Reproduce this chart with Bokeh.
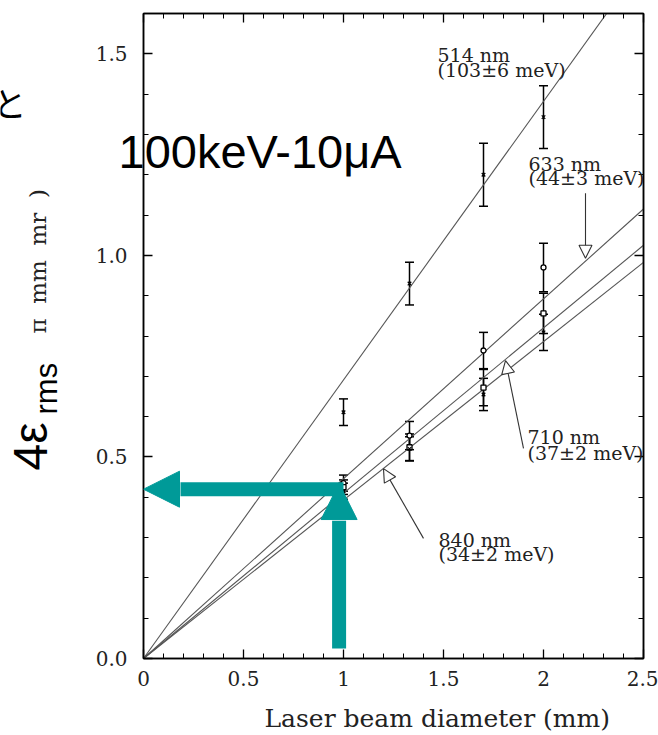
import numpy as np
from bokeh.plotting import figure
from bokeh.layouts import column
from bokeh.models import (Range1d, FixedTicker, LinearAxis, Whisker, ColumnDataSource,
                          Label, Arrow, NormalHead, TeeHead)
from bokeh.embed import file_html
from bokeh.resources import INLINE

# ---------------- data ----------------
diameters = [1.0, 1.33, 1.7, 2.0]
e514 = [0.611, 0.93, 1.20, 1.343]
err514 = [0.033, 0.053, 0.078, 0.078]
e633 = [0.435, 0.553, 0.764, 0.97]
err633 = [0.02, 0.035, 0.045, 0.06]
e710 = [0.425, 0.524, 0.672, 0.856]
err710 = [0.018, 0.033, 0.045, 0.05]
e840 = [0.415, 0.52, 0.655, 0.809]
err840 = [0.02, 0.03, 0.04, 0.045]
fit_slopes = [0.691, 0.446, 0.41, 0.393]
fit_x = [0.0, 2.5]
line_labels = [["514 nm", "(103\u00b16 meV)"], ["633 nm", "(44\u00b13 meV)"],
               ["710 nm", "(37\u00b12 meV)"], ["840 nm", "(34\u00b12 meV)"]]
x_ticks = [0, 0.5, 1, 1.5, 2, 2.5]
x_tick_labels = ["0", "0.5", "1", "1.5", "2", "2.5"]
y_ticks = [0.0, 0.5, 1.0, 1.5]
y_tick_labels = ["0.0", "0.5", "1.0", "1.5"]
title_text = "100keV-10\u03bcA"
xlabel = "Laser beam diameter (mm)"
ylabel_main = "4\u03b5"
ylabel_sub = "rms"
ylabel_unit = "\u03c0\u00a0 mm\u00a0 mr\u00a0 )"
corner_text = "\u3068"

SERIF = "DejaVu Serif"
SANS = "Liberation Sans"
CJK = "Noto Sans CJK JP"
TEAL = "#009a98"
DESC = {SERIF: 0.236, SANS: 0.212, CJK: 0.15}

W, H = 658, 735


# ---------- background figure: whole canvas is its frame, carries the free texts ----------
bg = figure(width=W, height=H, x_range=Range1d(0, W), y_range=Range1d(H, 0),
            x_axis_type=None, y_axis_type=None, min_border=0, toolbar_location=None,
            output_backend="svg")
bg.grid.visible = False
bg.outline_line_color = None
bg.background_fill_color = "white"
bg.border_fill_color = "white"

# (text, font, size px, baseline x, baseline y, rotated) in canvas pixels (y from top)
outside = [
    (xlabel, SERIF, 25, 264, 727, False),
    (title_text, SANS, 47, 118, 168, False),
    (ylabel_main, SANS, 48, 46, 470, True),
    (ylabel_sub, SANS, 31, 57, 414, True),
    (ylabel_unit, SERIF, 23, 45, 333, True),
    (corner_text, CJK, 34, -8, 121, False),
]
for text, font, size, bx, by, rot in outside:
    d = DESC[font] * size
    if rot:
        kw = dict(x=bx + d, y=by, angle=np.pi / 2)
    else:
        kw = dict(x=bx, y=by + d)
    bg.add_layout(Label(text=text, text_font=font, text_font_size=f"{size}px",
                        text_color="#222222" if font == SERIF else "black", **kw))

# ---------- main figure (transparent, laid over the background) ----------
p = figure(frame_width=500, frame_height=645, x_range=Range1d(0, 2.5), y_range=Range1d(0, 1.6),
           output_backend="svg", toolbar_location=None,
           min_border_left=143, min_border_right=15, min_border_top=13, min_border_bottom=77)
p.grid.visible = False
p.outline_line_color = "black"
p.outline_line_width = 1.5
p.background_fill_alpha = 0
p.border_fill_alpha = 0
p.margin = (-H, 0, 0, 0)

for fig in (bg, p):
    if "frame_align" in fig.properties():
        fig.frame_align = False

minor_x = [round(0.1 * i, 2) for i in range(26)]
minor_y = [round(0.1 * i, 2) for i in range(17)]

top = LinearAxis()
right = LinearAxis()
p.add_layout(top, "above")
p.add_layout(right, "right")
bottom = p.below[0]
left = p.left[0]

for ax, ticks, minors, labs in [(bottom, x_ticks, minor_x, x_tick_labels),
                                (top, x_ticks, minor_x, None),
                                (left, y_ticks, minor_y, y_tick_labels),
                                (right, y_ticks, minor_y, None)]:
    ax.ticker = FixedTicker(ticks=ticks, minor_ticks=minors)
    ax.major_tick_in = 9
    ax.major_tick_out = 0
    ax.minor_tick_in = 5
    ax.minor_tick_out = 0
    ax.axis_line_color = "black"
    ax.axis_line_width = 1.5
    ax.major_tick_line_width = 1.3
    ax.minor_tick_line_width = 1.0
    if labs is None:
        ax.major_label_text_font_size = "0px"
        ax.major_label_standoff = 0
    else:
        ax.major_label_overrides = {t: l for t, l in zip(ticks, labs)}
        ax.major_label_text_font = SERIF
        ax.major_label_text_font_size = "20px"
        ax.major_label_text_color = "#222222"
        ax.major_label_standoff = 16 if ax is left else 12

# fit lines
for s in fit_slopes:
    p.line(fit_x, [s * x for x in fit_x], line_color="#555555", line_width=1.1)

# error bars and points
series = [(e514, err514, "x"), (e633, err633, "circle"), (e710, err710, "square"), (e840, err840, "x")]
for ys, es, mk in series:
    src = ColumnDataSource(dict(x=diameters, y=ys,
                                upper=[y + e for y, e in zip(ys, es)],
                                lower=[y - e for y, e in zip(ys, es)]))
    p.add_layout(Whisker(source=src, base="x", upper="upper", lower="lower",
                         line_color="black", line_width=1.5,
                         upper_head=TeeHead(size=9, line_width=1.5, line_color="black"),
                         lower_head=TeeHead(size=9, line_width=1.5, line_color="black")))
    p.scatter("x", "y", source=src, marker=mk, size=5, line_color="black",
              fill_color="white" if mk != "x" else None, line_width=1.3)

# wavelength labels (data coords of baselines; Label anchors at text bottom)
label_pos = [(1.47, 1.481, 1.444), (1.925, 1.211, 1.176), (1.92, 0.533, 0.494), (1.475, 0.278, 0.243)]
lab_size = 19
lab_desc = DESC[SERIF] * lab_size / 403
for (lx, ly1, ly2), (t1, t2) in zip(label_pos, line_labels):
    for ly, t in ((ly1, t1), (ly2, t2)):
        p.add_layout(Label(x=lx, y=ly - lab_desc, text=t, text_font=SERIF, text_font_size=f"{lab_size}px",
                           text_color="#222222"))

# pointer arrows (open heads)
pointers = [((2.21, 1.154), (2.21, 0.993)), ((1.90, 0.521), (1.81, 0.739)), ((1.40, 0.298), (1.20, 0.471))]
for (x0, y0), (x1, y1) in pointers:
    p.add_layout(Arrow(x_start=x0, y_start=y0, x_end=x1, y_end=y1, line_color="#333333", line_width=1.1,
                       end=NormalHead(size=13, fill_color="white", line_color="#333333", line_width=1.1)))

# teal arrows
h_y, h_from, h_tip, head_len = 0.42, 1.0, 0.0, 0.185
p.segment(x0=[h_from], y0=[h_y], x1=[h_tip + head_len], y1=[h_y], line_color=TEAL, line_width=14, line_cap="butt")
p.add_layout(Arrow(x_start=h_tip + head_len, y_start=h_y, x_end=h_tip, y_end=h_y, line_alpha=0,
                   end=NormalHead(size=36, fill_color=TEAL, line_color=TEAL, line_width=1)))
v_x, v_from, v_tip, vhead_len = 0.978, 0.025, 0.434, 0.092
p.segment(x0=[v_x], y0=[v_from], x1=[v_x], y1=[v_tip - vhead_len], line_color=TEAL, line_width=14, line_cap="butt")
p.add_layout(Arrow(x_start=v_x, y_start=v_tip - vhead_len, x_end=v_x, y_end=v_tip, line_alpha=0,
                   end=NormalHead(size=36, fill_color=TEAL, line_color=TEAL, line_width=1)))

layout = column(bg, p, spacing=0)
open("out.html", "w").write(file_html(layout, INLINE))
